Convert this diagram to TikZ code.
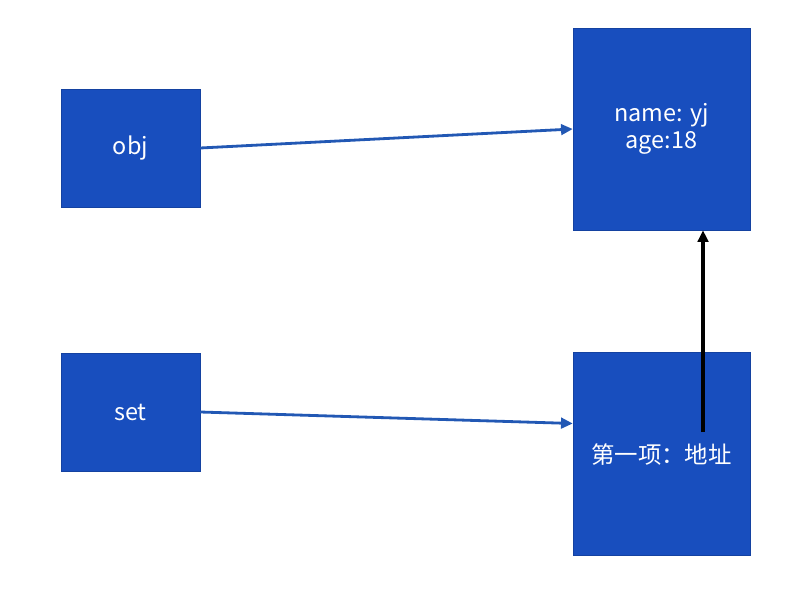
\documentclass[tikz,border=0pt]{standalone}
\usepackage{fontspec}
\setmainfont{Noto Sans CJK SC}
\usepackage{tikz}
\usetikzlibrary{positioning,arrows.meta,calc}
\definecolor{boxblue}{RGB}{24,78,190}
\definecolor{linkblue}{RGB}{34,88,180}
\tikzset{
  memcell/.style={draw=boxblue!85!black,fill=boxblue,text=white,inner sep=0pt,
    font=\fontsize{20}{23}\selectfont,align=center},
  ref/.style={linkblue,line width=2.4pt,-{Triangle[length=10pt,width=9pt]}},
}
\begin{document}
\begin{tikzpicture}[x=0.03cm,y=-0.03cm]
\useasboundingbox (0,0) rectangle (790,589);
% variables on the left
\node[memcell,minimum width=139*0.03cm,minimum height=118*0.03cm] (obj) at (130.5,148) {obj};
\node[memcell,minimum width=139*0.03cm,minimum height=118*0.03cm] (set) at (130.5,412) {set};
% objects on the heap
\node[memcell,minimum width=177*0.03cm,minimum height=202*0.03cm] (data) at (661.5,129) {name: yj\\age:18};
\node[memcell,minimum width=177*0.03cm,minimum height=203*0.03cm] (item) at (661.5,453.5) {};
\node[font=\fontsize{20}{23}\selectfont,text=white] (itemtext) at (661.5,455) {第一项：地址};
\coordinate (addr) at (703,432);
% references
\draw[ref] (obj.east) -- (data.west);
\draw[ref] (set.east) -- ($(item.west)+(0,-30)$);
\draw[black,line width=3pt,-{Triangle[length=10pt,width=9pt]}] (addr) -- (addr |- data.south);
\end{tikzpicture}
\end{document}
